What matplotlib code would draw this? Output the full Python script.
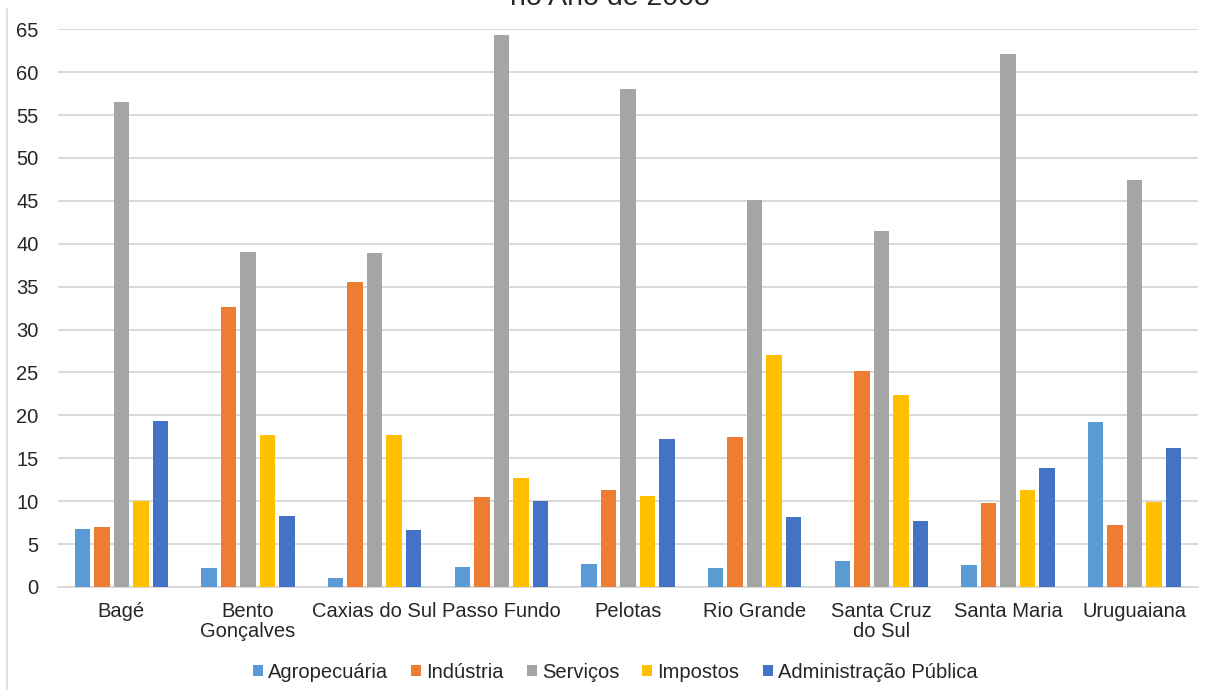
import numpy as np
import matplotlib
matplotlib.use("Agg")
import matplotlib.pyplot as plt
from matplotlib.lines import Line2D

plt.rcParams["font.family"] = ["Liberation Sans", "DejaVu Sans"]

cities = ["Bagé", "Bento\nGonçalves", "Caxias do Sul", "Passo Fundo", "Pelotas",
          "Rio Grande", "Santa Cruz\ndo Sul", "Santa Maria", "Uruguaiana"]
series = ["Agropecuária", "Indústria", "Serviços", "Impostos", "Administração Pública"]
agro = [6.8, 2.2, 1.0, 2.3, 2.7, 2.2, 3.0, 2.6, 19.2]
industria = [7.0, 32.6, 35.6, 10.5, 11.3, 17.5, 25.2, 9.8, 7.2]
servicos = [56.5, 39.0, 38.9, 64.3, 58.0, 45.1, 41.5, 62.1, 47.4]
impostos = [10.0, 17.7, 17.7, 12.7, 10.6, 27.0, 22.4, 11.3, 9.9]
adm_publica = [19.4, 8.3, 6.6, 10.0, 17.2, 8.2, 7.7, 13.9, 16.2]
colors = ["#5B9BD5", "#ED7D31", "#A5A5A5", "#FFC000", "#4472C4"]

values = [agro, industria, servicos, impostos, adm_publica]

fig = plt.figure(figsize=(12.05, 6.9), dpi=100)
ax = fig.add_axes([58 / 1205, 1 - 587 / 690, (1198 - 58) / 1205, (587 - 29.3) / 690])

x = np.arange(len(cities))
step = 0.154
for i, (name, vals, col) in enumerate(zip(series, values, colors)):
    ax.bar(x + (i - 2) * step, vals, width=0.122, color=col, label=name, zorder=3)

ax.set_xlim(-0.5, len(cities) - 0.5)
ax.set_ylim(0, 65)
ax.set_yticks(np.arange(0, 66, 5))
ax.set_xticks(x)
ax.set_xticklabels(cities, linespacing=1.05)
ax.yaxis.grid(True, color="#d9d9d9", linewidth=1.4, zorder=0)
for s in ["top", "right", "left"]:
    ax.spines[s].set_visible(False)
ax.spines["bottom"].set_color("#d9d9d9")
ax.spines["bottom"].set_linewidth(1.4)
ax.tick_params(axis="both", length=0, labelsize=14.5, colors="#262626")
ax.tick_params(axis="x", pad=11)
ax.tick_params(axis="y", pad=14)

ax.legend(loc="center", bbox_to_anchor=(615 / 1205, 1 - 672 / 690),
          bbox_transform=fig.transFigure, ncol=5, frameon=False,
          fontsize=14.5, handlelength=0.5, handleheight=0.5,
          handletextpad=0.25, columnspacing=1.15, labelcolor="#262626")

# title cut off by the top edge
fig.text(610 / 1205, 1 - 5 / 690, "no Ano de 2008", ha="center", va="baseline",
         fontsize=20.5, color="#262626")
# chart frame line on the left
fig.add_artist(Line2D([7 / 1205, 7 / 1205], [0, 1 - 9 / 690],
                      transform=fig.transFigure, color="#d9d9d9", linewidth=1.2))

fig.savefig("out.png", dpi=100)
